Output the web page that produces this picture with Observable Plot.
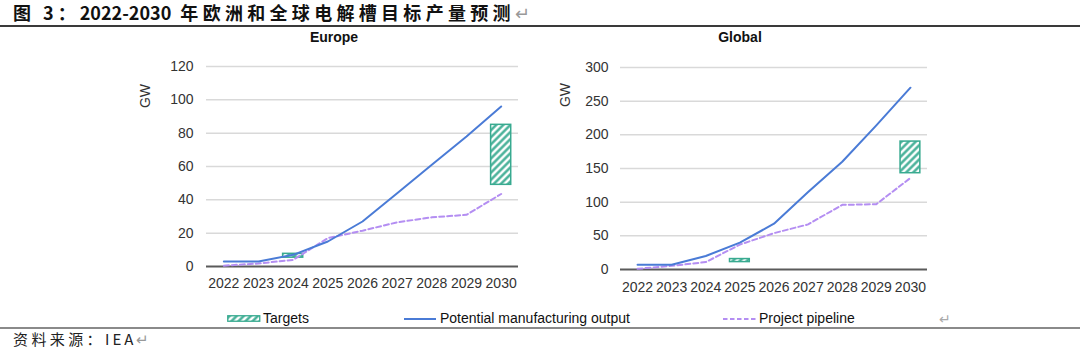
<!DOCTYPE html>
<html>
<head>
<meta charset="utf-8">
<script src="https://cdn.jsdelivr.net/npm/d3@7"></script>
<script src="https://cdn.jsdelivr.net/npm/@observablehq/plot@0.6"></script>
<style>
html, body { margin: 0; padding: 0; background: #fff; }
#root { position: relative; width: 1080px; height: 356px; overflow: hidden; font-family: "Liberation Sans", Arial, sans-serif; color: #222; }
.abs { position: absolute; white-space: nowrap; }
.abs svg { display: block; }
.cjk { font-family: "Noto Sans CJK SC", "Noto Sans", sans-serif; }
.lg { font-size: 14px; line-height: 16px; color: #111; }
</style>
</head>
<body>
<div id="root">
  <svg width="0" height="0" style="position:absolute">
    <defs>
      <pattern id="hatch" patternUnits="userSpaceOnUse" width="5" height="5" patternTransform="rotate(45)">
        <rect width="5" height="5" fill="#ffffff"></rect>
        <line x1="2.5" y1="0" x2="2.5" y2="5" stroke="#38aa90" stroke-width="2.3"></line>
      </pattern>
    </defs>
  </svg>
</div>
<script>
// ---- data ----
const years = [2022, 2023, 2024, 2025, 2026, 2027, 2028, 2029, 2030];

const europeOutput   = [3, 3, 7, 15, 27, 44, 61, 78, 96];
const europePipeline = [0.5, 1.8, 4, 17, 21.5, 26.5, 29.5, 31, 43.5];
const europeTargetYears = [2024, 2030];
const europeTargetLow   = [5.3, 49];
const europeTargetHigh  = [7.6, 85];
const europeYTicks = [0, 20, 40, 60, 80, 100, 120];

const globalOutput   = [7, 7, 20, 40, 68, 115, 160, 214, 270];
const globalPipeline = [1, 5.5, 11, 37, 54, 67, 96, 97, 136];
const globalTargetYears = [2025, 2030];
const globalTargetLow   = [11, 143];
const globalTargetHigh  = [15.5, 190];
const globalYTicks = [0, 50, 100, 150, 200, 250, 300];

const seriesNames = ["Targets", "Potential manufacturing output", "Project pipeline"];
const panelTitles = ["Europe", "Global"];

// ---- styles ----
const BLUE = "#4a7bd6";
const PURPLE = "#b48ef2";
const TEAL = "#38aa90";

const root = document.getElementById("root");

function addDiv(html, css, cls = "abs") {
  const d = document.createElement("div");
  d.className = cls;
  d.innerHTML = html;
  Object.assign(d.style, css);
  root.appendChild(d);
  return d;
}

function panel(cfg) {
  const out = years.map((y, i) => ({year: y, value: cfg.output[i]}));
  const pipe = years.map((y, i) => ({year: y, value: cfg.pipeline[i]}));
  const targ = cfg.tYears.map((y, i) => ({year: y, lo: cfg.tLow[i], hi: cfg.tHigh[i]}));
  const svg = Plot.plot({
    width: cfg.width,
    height: cfg.height,
    marginLeft: cfg.ml,
    marginRight: cfg.mr,
    marginTop: cfg.mt,
    marginBottom: cfg.mb,
    style: {fontFamily: '"Liberation Sans", Arial, sans-serif', fontSize: "14px", color: "#333", background: "transparent", overflow: "visible"},
    x: {type: "linear", domain: [2021.5, 2030.5]},
    y: {domain: [cfg.yTicks[0], cfg.yTicks[cfg.yTicks.length - 1]]},
    marks: [
      Plot.ruleY(cfg.yTicks.filter(d => d > 0), {stroke: "#d9d9d9", strokeWidth: 1.5}),
      Plot.ruleY([0], {stroke: "#5a5a5a", strokeWidth: 2}),
      Plot.rect(targ, {x1: d => d.year - 0.29, x2: d => d.year + 0.29, y1: "lo", y2: "hi", fill: "url(#hatch)", stroke: TEAL, strokeWidth: 1.5}),
      Plot.line(pipe, {x: "year", y: "value", stroke: PURPLE, strokeWidth: 2, strokeDasharray: "5,3"}),
      Plot.line(out, {x: "year", y: "value", stroke: BLUE, strokeWidth: 2}),
      Plot.axisX({ticks: years, tickFormat: d => String(d), tickSize: 0, tickPadding: cfg.xpad, label: null}),
      Plot.axisY({ticks: cfg.yTicks, tickSize: 0, tickPadding: cfg.ypad, label: null})
    ]
  });
  const wrap = document.createElement("div");
  wrap.className = "abs";
  Object.assign(wrap.style, {left: cfg.left + "px", top: cfg.top + "px"});
  wrap.appendChild(svg);
  root.appendChild(wrap);
  // panel title
  addDiv(cfg.title, {left: cfg.titleX + "px", top: "29px", transform: "translateX(-50%)", fontWeight: "bold", fontSize: "14px", lineHeight: "16px", color: "#111"});
  // y label
  addDiv("GW", {left: cfg.gwX + "px", top: cfg.gwY + "px", transform: "translate(-50%,-50%) rotate(-90deg)", fontSize: "14px", lineHeight: "16px", color: "#333"});
}

panel({title: panelTitles[0], output: europeOutput, pipeline: europePipeline, tYears: europeTargetYears, tLow: europeTargetLow, tHigh: europeTargetHigh, yTicks: europeYTicks,
  left: 130, top: 28, width: 400, height: 272, ml: 76, mr: 12, mt: 38, mb: 34, xpad: 12, ypad: 13, titleX: 334, gwX: 145, gwY: 96});
panel({title: panelTitles[1], output: globalOutput, pipeline: globalPipeline, tYears: globalTargetYears, tLow: globalTargetLow, tHigh: globalTargetHigh, yTicks: globalYTicks,
  left: 545, top: 28, width: 395, height: 276, ml: 75, mr: 13, mt: 39, mb: 35, xpad: 13, ypad: 12, titleX: 740, gwX: 565, gwY: 95});

// ---- title ----
addDiv('<span style="letter-spacing:4px">图 3：</span>2022-2030<span style="display:inline-block;width:9px"></span><span style="letter-spacing:4.3px">年欧洲和全球电解槽目标产量预测</span><span style="font-weight:400;color:#999">↵</span>',
  {left: "13px", top: "1px", fontSize: "18px", lineHeight: "22px", fontWeight: "bold", color: "#111"}, "abs cjk");
addDiv("", {left: "0px", top: "25px", width: "1080px", height: "2px", background: "#3a3a3a"});

// ---- legend ----
const sw = document.createElementNS("http://www.w3.org/2000/svg", "svg");
sw.setAttribute("width", "34"); sw.setAttribute("height", "8");
sw.innerHTML = `<rect x="0.75" y="0.75" width="32" height="5.5" fill="url(#hatch)" stroke="${TEAL}" stroke-width="1.3"></rect>`;
const swd = addDiv("", {left: "227px", top: "315px", lineHeight: "0"}); swd.appendChild(sw);
addDiv(seriesNames[0], {left: "263px", top: "310px"}, "abs lg");
addDiv("", {left: "404px", top: "317.5px", width: "32px", height: "2px", background: BLUE});
addDiv(seriesNames[1], {left: "440px", top: "310px"}, "abs lg");
const dl = document.createElementNS("http://www.w3.org/2000/svg", "svg");
dl.setAttribute("width", "36"); dl.setAttribute("height", "4");
dl.innerHTML = `<line x1="0" y1="2" x2="34" y2="2" stroke="${PURPLE}" stroke-width="2" stroke-dasharray="4.5,2.5"></line>`;
const dld = addDiv("", {left: "723px", top: "316.5px", lineHeight: "0"}); dld.appendChild(dl);
addDiv(seriesNames[2], {left: "759px", top: "310px"}, "abs lg");
addDiv("↵", {left: "939px", top: "311px", fontSize: "14px", lineHeight: "16px", color: "#aaa"});
addDiv("", {left: "0px", top: "327px", width: "1080px", height: "1.5px", background: "#8a8a8a"});

// ---- source ----
addDiv('<span style="letter-spacing:3.4px">资料来源：</span><span style="letter-spacing:3px">IEA</span><span style="color:#999">↵</span>',
  {left: "13px", top: "329px", fontSize: "15px", lineHeight: "20px", color: "#222"}, "abs cjk");
</script>
</body>
</html>
